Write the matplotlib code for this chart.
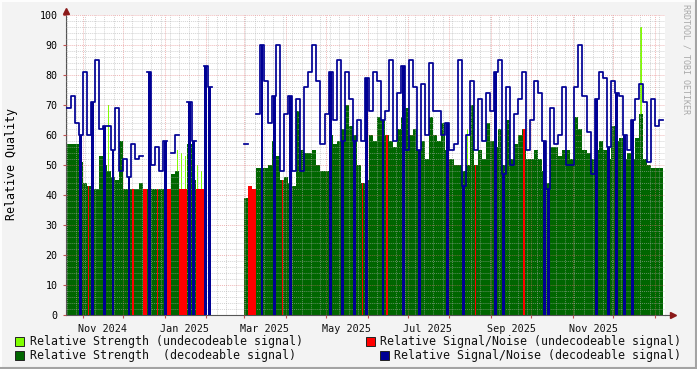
import numpy as np
import pandas as pd
import matplotlib
matplotlib.use("Agg")
import matplotlib.pyplot as plt
import matplotlib.dates as mdates
from matplotlib.ticker import MultipleLocator, NullFormatter
from matplotlib.lines import Line2D
from matplotlib.patches import Rectangle

# ---- data: one sample every 3 days ----
START = "2024-10-20"
STEP_DAYS = 3

# D = decodeable, B = decodeable + drop-out stripe, R = decodeable + undecodeable stripe,
# U = undecodeable, - = no data
kind = ("DDDBDRBDDB" "DBDDDBRDDU" "BDRDBUDDUU" "BBUUBB----" "----DUUDBD"
        "DBDRDBDDDD" "DDDDDBDDBD" "DBDRBDDDBR" "DDDBDDDBDD" "DDDDBDDDBD"
        "DRDDDDBDBD" "DDDRDDDDBB" "DDDDDDDDDD" "DBDDBDBDBD" "BDDDDDDD")

strength = [57, 57, 57, 51, 44, 43, 42, 42, 53, 50,
            48, 46, 45, 58, 42, 42, 42, 42, 44, 42,
            42, 42, 42, 42, 42, 42, 47, 48, 54, 53,
            57, 45, 50, 48, 0, 0, None, None, None, None,
            None, None, None, None, 39, 43, 42, 49, 49, 49,
            50, 58, 53, 45, 46, 44, 43, 68, 55, 54,
            54, 55, 50, 48, 48, 60, 57, 58, 62, 70,
            63, 60, 50, 44, 45, 60, 58, 66, 65, 60,
            58, 56, 62, 66, 69, 60, 62, 55, 58, 52,
            66, 60, 58, 64, 55, 52, 50, 50, 48, 50,
            70, 50, 55, 52, 64, 58, 56, 62, 50, 65,
            52, 57, 60, 62, 52, 52, 55, 52, 48, 44,
            56, 56, 53, 55, 55, 52, 66, 62, 55, 54,
            52, 55, 58, 55, 52, 63, 58, 59, 52, 54,
            52, 59, 67, 52, 50, 49, 49, 49]

snr = [69, 73, 64, 60, 81, 60, 71, 85, 62, 63,
       63, 55, 69, 48, 52, 46, 57, 52, 53, 42,
       81, 50, 56, 48, 58, 42, 54, 60, 42, 42,
       71, 58, 42, 42, 83, 76, None, None, None, None,
       None, None, None, None, 57, 43, 42, 67, 90, 78,
       64, 73, 90, 48, 67, 73, 48, 72, 48, 76,
       81, 90, 78, 57, 67, 81, 65, 85, 58, 81,
       72, 58, 65, 58, 79, 68, 81, 78, 65, 68,
       85, 58, 74, 83, 55, 85, 76, 55, 77, 60,
       84, 68, 68, 60, 64, 55, 57, 85, 43, 60,
       78, 55, 72, 58, 74, 68, 81, 85, 47, 76,
       50, 67, 72, 81, 55, 65, 78, 74, 58, 42,
       69, 57, 60, 76, 50, 50, 76, 90, 73, 61,
       47, 72, 81, 79, 56, 78, 74, 73, 60, 55,
       65, 72, 77, 71, 51, 72, 63, 65]

# thin undecodeable-strength spikes
weak_idx = [10, 27, 99, 142]
weak_val = [70, 55, 62, 96]

month_labels = ["Nov 2024", "Jan 2025", "Mar 2025", "May 2025",
                "Jul 2025", "Sep 2025", "Nov 2025"]
month_label_at = ["2024-11-16", "2025-01-16", "2025-03-16", "2025-05-16",
                  "2025-07-16", "2025-09-16", "2025-11-16"]

legend_left = ["Relative Strength (undecodeable signal)",
               "Relative Strength  (decodeable signal)"]
legend_right = ["Relative Signal/Noise (undecodeable signal)",
                "Relative Signal/Noise (decodeable signal)"]

GREEN = "#006600"
LGREEN = "#80ff00"
RED = "#ff0000"
BLUE = "#000094"
MONO = "DejaVu Sans Mono"

W, H = 697, 369
fig = plt.figure(figsize=(W / 100, H / 100), dpi=100, facecolor="#f3f3f3")
ax = fig.add_axes([66 / W, (H - 315) / H, (665 - 66) / W, 300 / H])
ax.set_facecolor("white")

k = np.array(list(kind))
assert len(k) == len(strength) == len(snr)
x = mdates.date2num(pd.date_range(START, periods=len(k), freq=f"{STEP_DAYS}D"))
S = np.array([np.nan if v is None else v for v in strength], float)
N = np.array([np.nan if v is None else v for v in snr], float)
w = STEP_DAYS
bk = dict(align="edge", linewidth=0, antialiased=False)

ax.bar(x[weak_idx] + w * 0.35, weak_val, width=w * 0.3, color=LGREEN, zorder=1, **bk)
m = np.isin(k, ["D", "B", "R"])
ax.bar(x[m], S[m], width=w, color=GREEN, zorder=2, **bk)
m = k == "U"
ax.bar(x[m] + w * 0.3, S[m], width=w * 0.4, color=LGREEN, zorder=2, **bk)
ax.bar(x[m], N[m], width=w, color=RED, zorder=3, **bk)
m = k == "R"
ax.bar(x[m] + w * 0.35, S[m], width=w * 0.3, color=RED, zorder=3, **bk)
m = k == "B"
ax.bar(x[m] + w * 0.15, N[m], width=w * 0.7, color=BLUE, zorder=3, **bk)

yb = np.where(np.isin(k, ["D", "B", "R"]), N, np.nan)
ax.step(np.append(x, x[-1] + w), np.append(yb, yb[-1]), where="post",
        color=BLUE, lw=1.25, zorder=4)

# axes / grid
x0 = mdates.date2num(pd.Timestamp("2024-10-19 14:00"))
x1 = mdates.date2num(pd.Timestamp("2026-01-08 10:00"))
ax.set_xlim(x0, x1)
ax.set_ylim(0, 100)
ax.yaxis.set_major_locator(MultipleLocator(10))
ax.yaxis.set_minor_locator(MultipleLocator(2))
ax.xaxis.set_major_locator(mdates.MonthLocator())
ax.xaxis.set_minor_locator(mdates.WeekdayLocator(byweekday=mdates.SU))
ax.xaxis.set_major_formatter(NullFormatter())
ax.grid(which="minor", color="#b0b0b0", alpha=0.55, ls=(0, (1, 1)), lw=0.7, zorder=5)
ax.grid(which="major", color="#e07070", alpha=0.5, ls=(0, (1, 1)), lw=0.7, zorder=5)
ax.set_axisbelow(False)
ax.tick_params(which="minor", length=0)
ax.tick_params(which="major", length=2, color="#c05050", width=0.8, pad=2)
ax.tick_params(axis="y", labelsize=7.2, pad=4)
for t in ax.get_yticklabels():
    t.set_fontfamily(MONO)
for s in ["top", "right"]:
    ax.spines[s].set_visible(False)
for s in ["left", "bottom"]:
    ax.spines[s].set_color("#555555")
    ax.spines[s].set_linewidth(0.8)
ax.add_line(Line2D([1, 1.012], [0, 0], transform=ax.transAxes, color="#555555",
                   lw=0.8, clip_on=False))
ax.add_line(Line2D([0, 0], [1, 1.01], transform=ax.transAxes, color="#555555",
                   lw=0.8, clip_on=False))
ax.plot([1.013], [0], marker=">", ms=4, color="#8b1a1a", transform=ax.transAxes, clip_on=False)
ax.plot([0], [1.012], marker="^", ms=4, color="#8b1a1a", transform=ax.transAxes, clip_on=False)

trans = ax.get_xaxis_transform()
for lab, d in zip(month_labels, month_label_at):
    ax.text(mdates.date2num(pd.Timestamp(d)), -0.03, lab, transform=trans,
            ha="center", va="top", fontsize=7.3, family=MONO, color="#111111")

fig.text(12 / W, 1 - 164 / H, "Relative Quality", rotation=90, ha="center",
         va="center", fontsize=8.4, family=MONO)
fig.text(686 / W, 1 - 4 / H, "RRDTOOL / TOBI OETIKER", rotation=-90, ha="center",
         va="top", fontsize=6, family=MONO, color="#a8a8a8")

# legend
def legend_item(bx, tx, cy, color, label):
    fig.add_artist(Rectangle((bx / W, 1 - (cy + 4.5) / H), 8.5 / W, 9 / H,
                             transform=fig.transFigure, facecolor=color,
                             edgecolor="#222222", lw=0.7))
    fig.text(tx / W, 1 - cy / H, label, ha="left", va="center", fontsize=8.4,
             family=MONO, color="#111111")

legend_item(15, 30, 341, LGREEN, legend_left[0])
legend_item(15, 30, 355, GREEN, legend_left[1])
legend_item(366, 380, 341, RED, legend_right[0])
legend_item(380, 394, 355, BLUE, legend_right[1])

# frame
fig.add_artist(Line2D([0, 1], [1 - 1 / H] * 2, color="#fdfdfd", lw=1.5))
fig.add_artist(Line2D([1 / W] * 2, [0, 1], color="#fdfdfd", lw=1.5))
fig.add_artist(Line2D([0, 1], [1 / H] * 2, color="#a3a3a3", lw=1.5))
fig.add_artist(Line2D([1 - 1 / W] * 2, [0, 1], color="#a3a3a3", lw=1.5))

fig.savefig("out.png", dpi=100, facecolor=fig.get_facecolor())
